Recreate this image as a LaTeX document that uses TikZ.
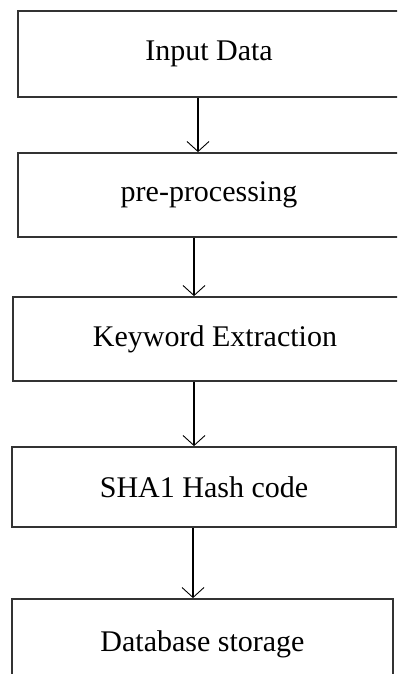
\documentclass[tikz,border=0pt]{standalone}
\usepackage{fontspec}
\setmainfont{Liberation Serif}
\usetikzlibrary{arrows.meta}
\begin{document}
\begin{tikzpicture}[x=1pt,y=-1pt,
  box/.style={draw=black!80, line width=1.8pt, rectangle, inner sep=0pt,
    font=\fontsize{30}{36}\selectfont},
  arr/.style={line width=1.2pt, -{Straight Barb[length=10pt,width=22pt,line width=0.9pt]}}]
\useasboundingbox (0,0) rectangle (397,674);
\clip (0,0) rectangle (397,674);
\node[box, minimum width=382pt, minimum height=86pt] (b1) at (209,54) {Input Data};
\node[box, minimum width=382pt, minimum height=84pt] (b2) at (209,195) {pre-processing};
\node[box, minimum width=404pt, minimum height=84pt] (b3) at (215,339) {Keyword Extraction};
\node[box, minimum width=384pt, minimum height=80pt] (b4) at (204,487) {SHA1 Hash code};
\node[box, minimum width=381pt, minimum height=91pt] (b5) at (202.5,644.5) {Database storage};
\coordinate (x1) at (198,0);
\coordinate (x2) at (194,0);
\coordinate (x3) at (194,0);
\coordinate (x4) at (193,0);
\draw[arr] (b1.south -| x1) -- (b2.north -| x1);
\draw[arr] (b2.south -| x2) -- (b3.north -| x2);
\draw[arr] (b3.south -| x3) -- (b4.north -| x3);
\draw[arr] (b4.south -| x4) -- (b5.north -| x4);
\end{tikzpicture}
\end{document}
